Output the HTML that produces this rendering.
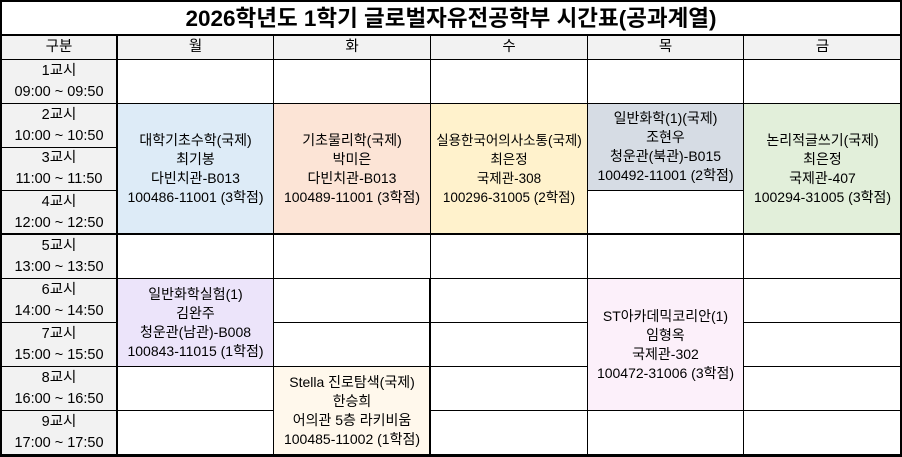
<!DOCTYPE html>
<html><head><meta charset="utf-8"><style>
body{margin:0;width:902px;height:457px;background:#fff;position:relative;overflow:hidden;font-family:"Liberation Sans","Noto Sans CJK KR",sans-serif;color:#000}
.c{position:absolute;box-sizing:border-box;border:1px solid #000;display:flex;flex-direction:column;align-items:center;justify-content:center;text-align:center;font-size:14px;line-height:19px}
.t{position:absolute;background:#000}
.g{background:#f2f2f2}
.g{font-size:14.5px !important}
</style></head><body>
<div class="c" style="left:0;top:0;width:902px;height:36px;font-weight:bold;font-size:22.5px">2026학년도 1학기 글로벌자유전공학부 시간표(공과계열)</div>
<div class="c g" style="left:0;top:35px;width:118px;height:25px">구분</div>
<div class="c g" style="left:117px;top:35px;width:157px;height:25px">월</div>
<div class="c g" style="left:273px;top:35px;width:158px;height:25px">화</div>
<div class="c g" style="left:430px;top:35px;width:158px;height:25px">수</div>
<div class="c g" style="left:587px;top:35px;width:157px;height:25px">목</div>
<div class="c g" style="left:743px;top:35px;width:159px;height:25px">금</div>

<div class="c g" style="left:0;top:59px;width:118px;height:45px;line-height:21px"><div>1교시</div><div>09:00 ~ 09:50</div></div>
<div class="c g" style="left:0;top:103px;width:118px;height:45px;line-height:21px"><div>2교시</div><div>10:00 ~ 10:50</div></div>
<div class="c g" style="left:0;top:147px;width:118px;height:44px;line-height:21px"><div>3교시</div><div>11:00 ~ 11:50</div></div>
<div class="c g" style="left:0;top:190px;width:118px;height:45px;line-height:21px"><div>4교시</div><div>12:00 ~ 12:50</div></div>
<div class="c g" style="left:0;top:234px;width:118px;height:45px;line-height:21px"><div>5교시</div><div>13:00 ~ 13:50</div></div>
<div class="c g" style="left:0;top:278px;width:118px;height:45px;line-height:21px"><div>6교시</div><div>14:00 ~ 14:50</div></div>
<div class="c g" style="left:0;top:322px;width:118px;height:45px;line-height:21px"><div>7교시</div><div>15:00 ~ 15:50</div></div>
<div class="c g" style="left:0;top:366px;width:118px;height:45px;line-height:21px"><div>8교시</div><div>16:00 ~ 16:50</div></div>
<div class="c g" style="left:0;top:410px;width:118px;height:46px;line-height:21px"><div>9교시</div><div>17:00 ~ 17:50</div></div>

<div class="c" style="left:117px;top:59px;width:157px;height:45px"></div>
<div class="c" style="left:273px;top:59px;width:158px;height:45px"></div>
<div class="c" style="left:430px;top:59px;width:158px;height:45px"></div>
<div class="c" style="left:587px;top:59px;width:157px;height:45px"></div>
<div class="c" style="left:743px;top:59px;width:159px;height:45px"></div>

<div class="c" style="left:117px;top:103px;width:157px;height:132px;background:#ddebf7"><div>대학기초수학(국제)</div><div>최기봉</div><div>다빈치관-B013</div><div>100486-11001 (3학점)</div></div>
<div class="c" style="left:273px;top:103px;width:158px;height:132px;background:#fce4d6"><div>기초물리학(국제)</div><div>박미은</div><div>다빈치관-B013</div><div>100489-11001 (3학점)</div></div>
<div class="c" style="left:430px;top:103px;width:158px;height:132px;background:#fff2cc;font-size:13.5px"><div>실용한국어의사소통(국제)</div><div>최은정</div><div>국제관-308</div><div>100296-31005 (2학점)</div></div>
<div class="c" style="left:587px;top:103px;width:157px;height:88px;background:#d6dce4"><div>일반화학(1)(국제)</div><div>조현우</div><div>청운관(북관)-B015</div><div>100492-11001 (2학점)</div></div>
<div class="c" style="left:587px;top:190px;width:157px;height:45px"></div>
<div class="c" style="left:743px;top:103px;width:159px;height:132px;background:#e2efda"><div>논리적글쓰기(국제)</div><div>최은정</div><div>국제관-407</div><div>100294-31005 (3학점)</div></div>

<div class="c" style="left:117px;top:234px;width:157px;height:45px"></div>
<div class="c" style="left:273px;top:234px;width:158px;height:45px"></div>
<div class="c" style="left:430px;top:234px;width:158px;height:45px"></div>
<div class="c" style="left:587px;top:234px;width:157px;height:45px"></div>
<div class="c" style="left:743px;top:234px;width:159px;height:45px"></div>

<div class="c" style="left:117px;top:278px;width:157px;height:89px;background:#ece4fa"><div>일반화학실험(1)</div><div>김완주</div><div>청운관(남관)-B008</div><div>100843-11015 (1학점)</div></div>
<div class="c" style="left:117px;top:366px;width:157px;height:45px"></div>
<div class="c" style="left:117px;top:410px;width:157px;height:46px"></div>
<div class="c" style="left:273px;top:278px;width:158px;height:45px"></div>
<div class="c" style="left:273px;top:322px;width:158px;height:45px"></div>
<div class="c" style="left:273px;top:366px;width:158px;height:90px;background:#fff8ec"><div>Stella 진로탐색(국제)</div><div>한승희</div><div>어의관 5층 라키비움</div><div>100485-11002 (1학점)</div></div>
<div class="c" style="left:430px;top:278px;width:158px;height:45px"></div>
<div class="c" style="left:430px;top:322px;width:158px;height:45px"></div>
<div class="c" style="left:430px;top:366px;width:158px;height:45px"></div>
<div class="c" style="left:430px;top:410px;width:158px;height:46px"></div>
<div class="c" style="left:587px;top:278px;width:157px;height:133px;background:#fcf0fa"><div>ST아카데믹코리안(1)</div><div>임형옥</div><div>국제관-302</div><div>100472-31006 (3학점)</div></div>
<div class="c" style="left:587px;top:410px;width:157px;height:46px"></div>
<div class="c" style="left:743px;top:278px;width:159px;height:45px"></div>
<div class="c" style="left:743px;top:322px;width:159px;height:45px"></div>
<div class="c" style="left:743px;top:366px;width:159px;height:45px"></div>
<div class="c" style="left:743px;top:410px;width:159px;height:46px"></div>

<div class="t" style="left:0;top:0;width:902px;height:2px"></div>
<div class="t" style="left:0;top:34px;width:902px;height:2px"></div>
<div class="t" style="left:0;top:233px;width:902px;height:2px"></div>
<div class="t" style="left:0;top:454px;width:902px;height:3px"></div>
<div class="t" style="left:0;top:0;width:2px;height:457px"></div>
<div class="t" style="left:900px;top:0;width:2px;height:457px"></div>
<div class="t" style="left:116px;top:35px;width:2px;height:422px"></div>
<div class="t" style="left:429px;top:278px;width:2px;height:178px"></div>
</body></html>
